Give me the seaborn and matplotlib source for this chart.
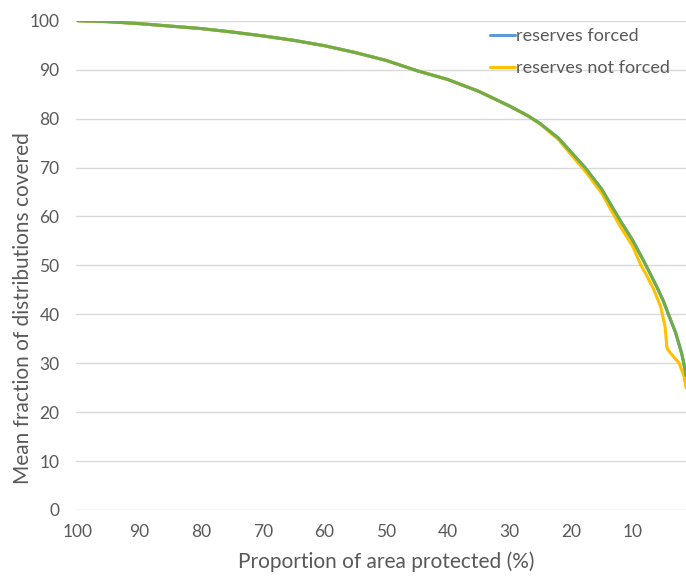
import pandas as pd
import numpy as np
import matplotlib
matplotlib.use("Agg")
import matplotlib.pyplot as plt
import seaborn as sns

# values
area_all = [100, 95, 90, 85, 80, 75, 70, 65, 60, 55, 50, 45, 40, 35, 30, 27, 25,
            22, 20, 17.7, 15, 12, 10, 8, 6, 5, 4, 3, 2, 1.5, 1.3]
green_cov = [100, 99.8, 99.4, 98.9, 98.4, 97.7, 96.9, 96.0, 94.9, 93.5, 91.9, 89.8,
             88.0, 85.6, 82.6, 80.6, 79.0, 76.0, 73.2, 70.0, 65.6, 59.2, 55.2, 50.5,
             45.5, 42.8, 39.5, 36.3, 32.0, 29.0, 27.5]
forced_cov = [100, 99.8, 99.4, 98.9, 98.4, 97.7, 96.9, 96.0, 94.9, 93.5, 91.9, 89.8,
              88.0, 85.6, 82.6, 80.6, 79.0, 76.0, 73.2, 70.0, 65.6, 59.2, 55.2, 50.5,
              45.5, 42.8, 39.5, 36.3, 32.0, 29.0, 27.5]

area_nf = [100, 95, 90, 85, 80, 75, 70, 65, 60, 55, 50, 45, 40, 35, 30, 27, 25,
           22, 20, 17.7, 15, 12, 11, 10, 8.6, 7.8, 6.5, 5.4, 4.7, 4.4, 4.2, 3.5,
           2.4, 1.6, 1.3]
notforced_cov = [100, 99.8, 99.4, 98.9, 98.4, 97.7, 96.9, 96.0, 94.9, 93.5, 91.9, 89.8,
                 88.0, 85.6, 82.6, 80.6, 78.9, 75.7, 72.7, 69.3, 64.8, 58.0, 56.0, 54.0,
                 50.0, 48.2, 45.0, 41.5, 37.5, 33.2, 32.7, 31.6, 30.0, 27.2, 25.0]

df_forced = pd.DataFrame({"area": area_all, "cov": forced_cov})
df_nf = pd.DataFrame({"area": area_nf, "cov": notforced_cov})
df_green = pd.DataFrame({"area": area_all, "cov": green_cov})

sns.set_theme(style="white")
plt.rcParams["font.family"] = ["Lato", "DejaVu Sans"]

fig = plt.figure(figsize=(6.86, 5.76), dpi=100)
ax = fig.add_axes([0.111, 0.1146, 0.889, 0.8494])

sns.lineplot(data=df_forced, x="area", y="cov", ax=ax, color="#5B9BD5", lw=2.2,
             label="reserves forced", sort=False)
sns.lineplot(data=df_nf, x="area", y="cov", ax=ax, color="#FFC000", lw=2.2,
             label="reserves not forced", sort=False)
sns.lineplot(data=df_green, x="area", y="cov", ax=ax, color="#70AD47", lw=2.2,
             sort=False, legend=False)

ax.set_xlim(100.3, 1.3)
ax.set_ylim(0, 100)
ax.set_yticks(range(0, 101, 10))
ax.set_xticks(range(100, 9, -10))
ax.grid(axis="y", color="#d9d9d9", lw=1)
ax.set_axisbelow(True)
for s in ax.spines.values():
    s.set_visible(False)
ax.tick_params(axis="y", length=0, pad=12, labelsize=12.5, labelcolor="#595959")
ax.tick_params(axis="x", length=0, pad=10, labelsize=12.5, labelcolor="#595959")

ax.set_xlabel("Proportion of area protected (%)", fontsize=15, color="#595959")
ax.set_ylabel("Mean fraction of distributions covered", fontsize=15, color="#595959")
ax.xaxis.set_label_coords(0.508, -0.084)
ax.yaxis.set_label_coords(-0.07, 0.413)

leg = ax.legend(loc="upper right", bbox_to_anchor=(0.985, 1.0), frameon=False,
                fontsize=13, handlelength=1.4, handletextpad=0.05, labelspacing=0.9,
                borderaxespad=0.0)
for t in leg.get_texts():
    t.set_color("#595959")

fig.savefig("out.png", dpi=100)
